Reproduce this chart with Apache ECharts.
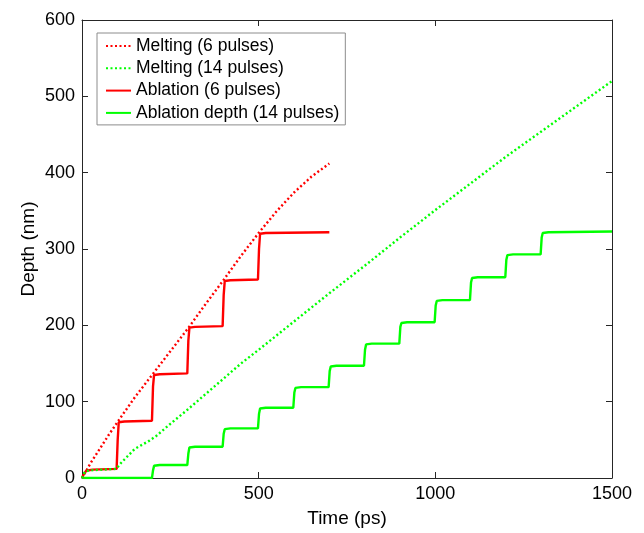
<!DOCTYPE html>
<html>
<head>
<meta charset="utf-8">
<script src="https://cdn.jsdelivr.net/npm/echarts@6/dist/echarts.min.js"></script>
<style>html,body{margin:0;padding:0;background:#fff}#c{width:644px;height:533px}</style>
</head>
<body>
<div id="c"></div>
<script>
// ---- Data ----
const meltTime6 = [0, 10, 25, 50, 75, 100, 150, 200, 250, 300, 350, 400, 450, 500, 550, 600, 650, 700];
const meltDepth6 = [0, 8, 20, 38, 56, 73, 106, 136, 166, 196, 228, 259, 291, 321, 349, 374, 395, 412];

const meltTime14 = [0, 8, 20, 60, 97, 111, 130, 149, 172, 191, 210, 250, 300, 350, 400, 450, 500, 600, 700, 800, 900, 1000, 1100, 1200, 1300, 1400, 1500];
const meltDepth14 = [0, 8, 10, 11, 12, 20, 29, 38, 44, 49, 55, 71, 90, 110, 130, 150, 168, 205, 242, 278, 315, 351, 386, 421, 454, 487, 520];

const ablTime6 = [0, 5, 12, 30, 98, 101, 104, 120, 198, 201, 204, 220, 298, 301, 304, 320, 398, 401, 404, 420, 498, 501, 504, 520, 700];
const ablDepth6 = [0, 5, 9.5, 11, 12, 50, 73, 74, 75, 120, 135, 136, 137, 180, 197, 198, 199, 240, 258, 259, 260, 300, 320, 321, 322];

const ablTime14 = [0, 198, 201, 204, 220, 298, 301, 304, 320, 398, 401, 404, 420, 498, 501, 504, 520, 598, 601, 604, 620, 698, 701, 704, 720, 798, 801, 804, 820, 898, 901, 904, 920, 998, 1001, 1004, 1020, 1098, 1101, 1104, 1120, 1198, 1201, 1204, 1220, 1298, 1301, 1304, 1320, 1500];
const ablDepth14 = [0, 0, 10, 16, 17, 17, 32, 40, 41, 41, 58, 64, 65, 65, 84, 91, 92, 92, 112, 118, 119, 119, 140, 146, 147, 147, 168, 175, 176, 176, 198, 203, 204, 204, 226, 232, 233, 233, 256, 262, 263, 263, 286, 292, 293, 293, 315, 321, 322, 323];

const seriesNames = ['Melting (6 pulses)', 'Melting (14 pulses)', 'Ablation (6 pulses)', 'Ablation depth (14 pulses)'];
const xTicks = [0, 500, 1000, 1500];
const yTicks = [0, 100, 200, 300, 400, 500, 600];

function pairs(t, d) { return t.map((v, i) => [v, d[i]]); }

const font = 'Liberation Sans, Arial, sans-serif';
const axisCol = '#262626';

const chart = echarts.init(document.getElementById('c'), null, { renderer: 'canvas' });
const baseAxis = {
  type: 'value',
  axisLine: { show: true, onZero: false, lineStyle: { color: axisCol, width: 1 } },
  axisTick: { show: true, inside: true, length: 6, lineStyle: { color: axisCol } },
  splitLine: { show: false }
};
chart.setOption({
  animation: false,
  backgroundColor: '#fff',
  grid: { left: 82, top: 20, right: 32, bottom: 54, containLabel: false },
  legend: {
    orient: 'vertical', left: 97, top: 33,
    data: seriesNames,
    itemWidth: 25, itemHeight: 17, itemGap: 4.3, itemTextGap: 3,
    padding: [4, 6, 3, 8],
    borderColor: '#8c8c8c', borderWidth: 1, borderRadius: 0,
    backgroundColor: '#fff',
    itemStyle: { opacity: 0 },
    textStyle: { fontFamily: font, fontSize: 17.5, color: '#000' }
  },
  xAxis: [
    Object.assign({}, baseAxis, {
      min: xTicks[0], max: xTicks[xTicks.length - 1], interval: 500, position: 'bottom',
      name: 'Time (ps)', nameLocation: 'middle', nameGap: 31, nameMoveOverlap: false,
      nameTextStyle: { fontFamily: font, fontSize: 19, color: '#000' },
      axisLabel: { fontFamily: font, fontSize: 18, color: '#000', margin: 7, formatter: v => String(v) }
    }),
    Object.assign({}, baseAxis, {
      min: xTicks[0], max: xTicks[xTicks.length - 1], interval: 500, position: 'top',
      axisLabel: { show: false }
    })
  ],
  yAxis: [
    Object.assign({}, baseAxis, {
      min: yTicks[0], max: yTicks[yTicks.length - 1], interval: 100, position: 'left',
      name: 'Depth (nm)', nameLocation: 'middle', nameGap: 44, nameMoveOverlap: false,
      nameTextStyle: { fontFamily: font, fontSize: 19, color: '#000' },
      axisLabel: { fontFamily: font, fontSize: 18, color: '#000', margin: 7, formatter: v => String(v) }
    }),
    Object.assign({}, baseAxis, {
      min: yTicks[0], max: yTicks[yTicks.length - 1], interval: 100, position: 'right',
      axisLabel: { show: false }
    })
  ],
  series: [
    { name: seriesNames[0], type: 'line', data: pairs(meltTime6, meltDepth6), symbol: 'none',
      lineStyle: { color: '#ff0000', width: 2.4, type: [2, 2.5] }, itemStyle: { color: '#ff0000' }, z: 3 },
    { name: seriesNames[1], type: 'line', data: pairs(meltTime14, meltDepth14), symbol: 'none',
      lineStyle: { color: '#00ff00', width: 2.4, type: [2, 2.5] }, itemStyle: { color: '#00ff00' }, z: 3 },
    { name: seriesNames[2], type: 'line', data: pairs(ablTime6, ablDepth6), symbol: 'none',
      lineStyle: { color: '#ff0000', width: 2.4 }, itemStyle: { color: '#ff0000' }, z: 2 },
    { name: seriesNames[3], type: 'line', data: pairs(ablTime14, ablDepth14), symbol: 'none',
      lineStyle: { color: '#00ff00', width: 2.4 }, itemStyle: { color: '#00ff00' }, z: 2 }
  ]
});
</script>
</body>
</html>
